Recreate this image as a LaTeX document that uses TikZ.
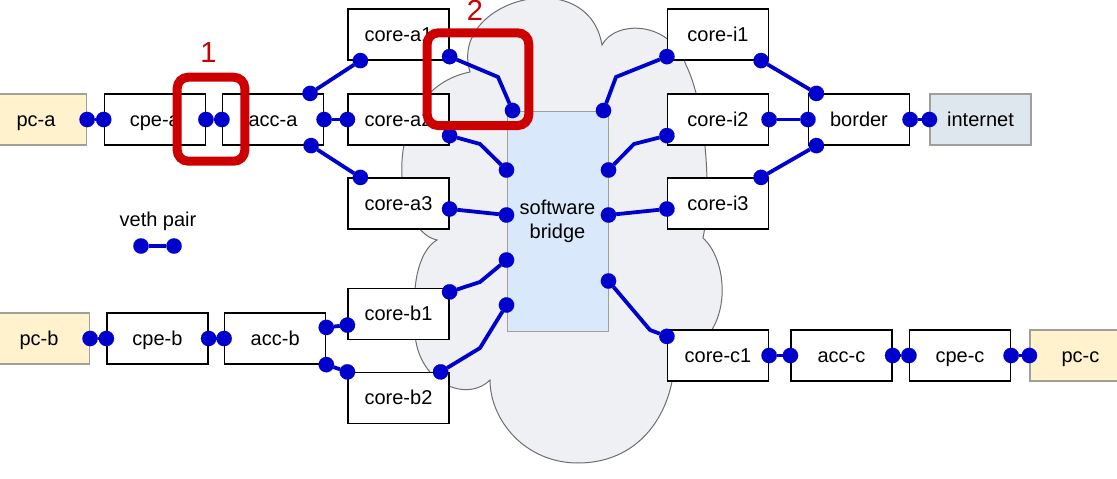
\documentclass[tikz,border=0pt]{standalone}
\usepackage{fontspec}
\setmainfont{Liberation Sans}
\usetikzlibrary{arrows.meta}
\definecolor{vethblue}{RGB}{0,0,205}
\definecolor{markred}{RGB}{204,0,0}
\definecolor{pcfill}{RGB}{255,242,204}
\definecolor{netfill}{RGB}{222,230,238}
\definecolor{bridgefill}{RGB}{218,232,252}
\definecolor{cloudfill}{RGB}{238,240,243}
\definecolor{clouddraw}{RGB}{110,110,110}
\definecolor{edgegray}{RGB}{160,160,155}

\begin{document}
\begin{tikzpicture}[x=1pt, y=-1pt,
		box/.style={draw, line width=1.2pt, fill=white, minimum width=101pt, minimum height=51pt, inner sep=0pt, text height=17.4pt, text depth=4pt, font=\fontsize{20}{24}\selectfont},
		pcbox/.style={box, draw=edgegray, fill=pcfill},
		veth/.style={color=vethblue, line width=3.8pt, {Circle[length=15.5pt, line width=0.1pt]}-{Circle[length=15.5pt, line width=0.1pt]}, shorten <=-7.75pt, shorten >=-7.75pt},
		marker/.style={draw=markred, line width=9pt, rounded corners=11pt, inner sep=0pt},
		marklabel/.style={text=markred, font=\fontsize{29}{30}\selectfont, inner sep=0pt}]
	\useasboundingbox (0,0) rectangle (1117,479);
	\draw[draw=clouddraw, fill=cloudfill, line width=1pt] (470,72) .. controls (448,0) and (588,-38) .. (602,45) .. controls (615,20) and (670,20) .. (686,65) .. controls (706,105) and (712,195) .. (703,238) .. controls (730,262) and (735,340) .. (675,358) .. controls (672,420) and (635,463) .. (578,463) .. controls (525,463) and (490,420) .. (490,380) .. controls (465,405) and (410,380) .. (415,320) .. controls (412,280) and (420,250) .. (437,240) .. controls (390,230) and (380,90) .. (470,72) -- cycle;

	\node[pcbox] (pc-a) at (36,119.5) {pc-a};
	\node[box] (cpe-a) at (154.8,119.5) {cpe-a};
	\node[box] (acc-a) at (273,119.5) {acc-a};
	\node[box] (core-a1) at (398.5,34.5) {core-a1};
	\node[box] (core-a2) at (398.5,119.5) {core-a2};
	\node[box] (core-a3) at (398.5,203.5) {core-a3};
	\node[pcbox] (pc-b) at (39,338.5) {pc-b};
	\node[box] (cpe-b) at (157.5,338.5) {cpe-b};
	\node[box] (acc-b) at (275.2,338.5) {acc-b};
	\node[box] (core-b1) at (398.5,314) {core-b1};
	\node[box] (core-b2) at (398.5,398) {core-b2};
	\node[draw=edgegray, fill=bridgefill, line width=1pt, minimum width=101pt, minimum height=220pt, align=center, font=\fontsize{20}{24}\selectfont] (bridge) at (557.5,221) {software\\bridge};
	\node[box] (core-i1) at (718,34.5) {core-i1};
	\node[box] (core-i2) at (718,119.5) {core-i2};
	\node[box] (core-i3) at (718,203.5) {core-i3};
	\node[box] (border) at (859,119.5) {border};
	\node[box, draw=edgegray, fill=netfill] (internet) at (980.5,119.5) {internet};
	\node[box] (core-c1) at (718,355.5) {core-c1};
	\node[box] (acc-c) at (841.5,355.5) {acc-c};
	\node[box] (cpe-c) at (960,355.5) {cpe-c};
	\node[pcbox] (pc-c) at (1080.5,355.5) {pc-c};

	\node[text height=17.4pt, text depth=4pt, inner sep=0pt, font=\fontsize{20}{24}\selectfont] (vethlabel) at (158,220) {veth pair};
	\coordinate (vleft) at (141,246);
	\coordinate (vright) at (174,246);

	\path[veth]
		(pc-a.east) edge (cpe-a.west)
		(cpe-a.east) edge (acc-a.west)
		(acc-a.east) edge (core-a2.west)
		([xshift=-14pt]acc-a.north east) edge ([xshift=13pt]core-a1.south west)
		([xshift=-13pt]acc-a.south east) edge ([xshift=13pt]core-a3.north west)
		([yshift=-5.5pt]core-a3.east) edge ([yshift=6pt]bridge.west)
		([yshift=6pt]bridge.east) edge ([yshift=-5.5pt]core-i3.west)
		([xshift=-8pt]core-i1.south east) edge ([xshift=8.5pt]border.north west)
		(core-i2.east) edge (border.west)
		([xshift=-8pt]core-i3.north east) edge ([xshift=8.5pt]border.south west)
		(border.east) edge (internet.west)
		(pc-b.east) edge (cpe-b.west)
		(cpe-b.east) edge (acc-b.west)
		([yshift=-15pt]acc-b.north east) edge ([yshift=15pt]core-b1.south west)
		(acc-b.south east) edge (core-b2.north west)
		(core-c1.east) edge (acc-c.west)
		(acc-c.east) edge (cpe-c.west)
		(cpe-c.east) edge (pc-c.west)
		(vleft) edge (vright);
	\draw[veth] ([yshift=4pt]core-a1.south east) -- (498,77) -- ([xshift=6pt]bridge.north west);
	\draw[veth] ([yshift=10pt]core-a2.south east) -- (480,144) -- ([yshift=51pt]bridge.west);
	\draw[veth] ([yshift=-4pt]core-b1.north east) -- (480,282) -- ([yshift=-39pt]bridge.west);
	\draw[veth] ([xshift=-9pt]core-b2.north east) -- (480,348) -- ([yshift=-84pt]bridge.west);
	\draw[veth] ([xshift=-5pt]bridge.north east) -- (616,77) -- ([yshift=4pt]core-i1.south west);
	\draw[veth] ([yshift=51pt]bridge.east) -- (634,144) -- ([yshift=10pt]core-i2.south west);
	\draw[veth] ([yshift=-60pt]bridge.east) -- (650,330) -- ([yshift=-7pt]core-c1.north west);

	\node[marker, minimum width=67.6pt, minimum height=84pt] (mark1) at (211,119.2) {};
	\node[marker, minimum width=101.6pt, minimum height=92.7pt] (mark2) at (478,79.2) {};
	\node[marklabel] (num1) at (208.5,52.2) {1};
	\node[marklabel] (num2) at (475,10.8) {2};
\end{tikzpicture}
\end{document}
